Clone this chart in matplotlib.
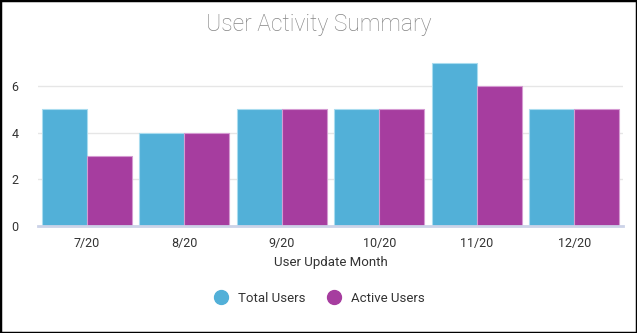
import matplotlib
matplotlib.use("Agg")
import matplotlib.pyplot as plt
from matplotlib.lines import Line2D
from matplotlib.patches import Rectangle
import numpy as np

# Datos
months = ["7/20", "8/20", "9/20", "10/20", "11/20", "12/20"]
total_users = [5, 4, 5, 5, 7, 5]
active_users = [3, 4, 5, 5, 6, 5]

blue = "#52b0d8"
purple = "#a63d9f"
plt.rcParams["font.family"] = ["Roboto", "DejaVu Sans"]

fig = plt.figure(figsize=(6.37, 3.33), dpi=100)
ax = fig.add_axes([0.0597, 0.3213, 0.9183, 0.505])

x = np.arange(len(months))
w = 0.46
ax.bar(x - w / 2, total_users, w, color=blue, edgecolor="#a9dcef", linewidth=0.8, zorder=3)
ax.bar(x + w / 2, active_users, w, color=purple, edgecolor="#d59ad2", linewidth=0.8, zorder=3)

ax.set_xlim(-0.5, len(months) - 0.5)
ax.set_ylim(0, 7.2)
ax.set_yticks([0, 2, 4, 6])
ax.set_xticks(x)
ax.set_xticklabels(months)
ax.grid(axis="y", color="#e6e6e6", linewidth=1, zorder=0)
for s in ["top", "right", "left"]:
    ax.spines[s].set_visible(False)
ax.spines["bottom"].set_color("#ccd3e8")
ax.spines["bottom"].set_linewidth(2)
ax.spines["bottom"].set_zorder(4)
ax.tick_params(axis="both", length=0, labelsize=9, colors="#333333")
ax.tick_params(axis="x", pad=8)
ax.tick_params(axis="y", pad=14)
ax.set_xlabel("User Update Month", fontsize=9.5, color="#333333", labelpad=4)

fig.text(0.5, 0.927, "User Activity Summary", ha="center", va="center",
         fontsize=16.5, color="#858585", fontweight="light")

# Leyenda
handles = [
    Line2D([], [], marker="o", linestyle="", markersize=10, color=blue, label="Total Users"),
    Line2D([], [], marker="o", linestyle="", markersize=10, color=purple, label="Active Users"),
]
fig.legend(handles=handles, loc="center", bbox_to_anchor=(0.497, 0.105), ncol=2,
           frameon=False, fontsize=9.5, handletextpad=0.3, columnspacing=1.15,
           labelcolor="#333333")

# Marco
fig.patches.append(Rectangle((0, 0), 1, 1, transform=fig.transFigure, fill=False,
                             edgecolor="black", linewidth=2.5))

fig.savefig("out.png", dpi=100)
